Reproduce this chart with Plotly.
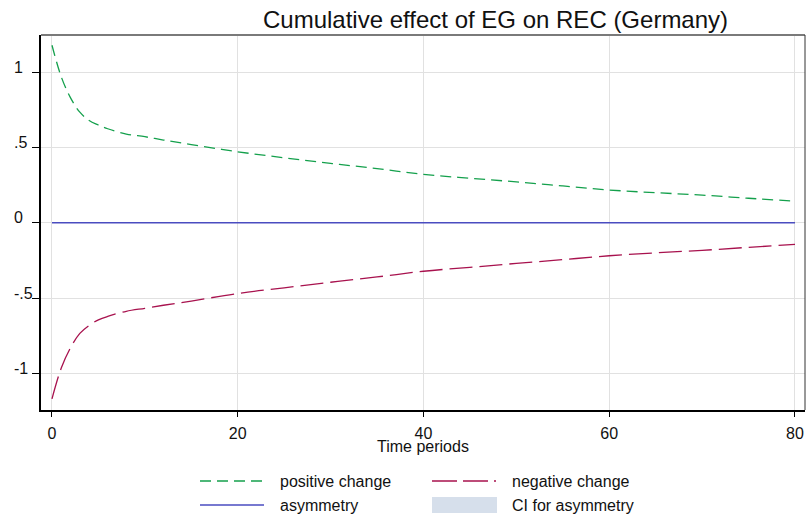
import plotly.graph_objects as go

# ---- data ----
periods = [0, 1, 2, 3, 4, 5, 6, 8, 10, 12, 15, 20, 25, 30, 35, 40, 45, 50, 55, 60, 65, 70, 75, 80]
positive_change = [1.18, 0.97, 0.83, 0.735, 0.68, 0.65, 0.625, 0.59, 0.572, 0.55, 0.52, 0.472,
                   0.432, 0.395, 0.36, 0.322, 0.296, 0.272, 0.245, 0.218, 0.2, 0.184, 0.163, 0.144]
negative_change = [-1.17, -0.965, -0.83, -0.735, -0.682, -0.645, -0.622, -0.588, -0.568, -0.548, -0.52, -0.47,
                   -0.432, -0.395, -0.36, -0.322, -0.296, -0.27, -0.245, -0.219, -0.2, -0.183, -0.163, -0.144]
asymmetry = [0.0] * len(periods)
ci_lower = [0.0] * len(periods)
ci_upper = [0.0] * len(periods)

x_ticks = [0, 20, 40, 60, 80]
y_ticks = [1, 0.5, 0, -0.5, -1]
y_tick_labels = ["1", ".5", "0", "-.5", "-1"]

title_text = "Cumulative effect of EG on REC (Germany)"
x_title = "Time periods"
legend_labels = ["positive change", "negative change", "asymmetry", "CI for asymmetry"]

GREEN = "#14a04c"
RED = "#a8124e"
BLUE = "#4a4cc0"
CI_FILL = "#d6dfeb"
FONT = "Liberation Sans, Arial, sans-serif"

W, H = 807, 517
L, R, T, B = 41, 2, 35, 107

fig = go.Figure()
fig.add_trace(go.Scatter(x=periods, y=ci_upper, mode="lines", line=dict(width=0),
                         showlegend=False, hoverinfo="skip"))
fig.add_trace(go.Scatter(x=periods, y=ci_lower, mode="lines", line=dict(width=0),
                         fill="tonexty", fillcolor=CI_FILL, showlegend=False, hoverinfo="skip"))
fig.add_trace(go.Scatter(x=periods, y=positive_change, mode="lines", line_shape="spline",
                         line=dict(color=GREEN, width=1.3, dash="11px,6px"), showlegend=False))
fig.add_trace(go.Scatter(x=periods, y=negative_change, mode="lines", line_shape="spline",
                         line=dict(color=RED, width=1.3, dash="23px,7px"), showlegend=False))
fig.add_trace(go.Scatter(x=periods, y=asymmetry, mode="lines",
                         line=dict(color=BLUE, width=1.5), showlegend=False))

pw = W - L - R
ph = H - T - B


def px_x(p):
    return (p - L) / pw


def px_y(p):
    return 1 - (p - T) / ph


shapes = []
annotations = []

# frame: gray top, dark right
shapes.append(dict(type="line", xref="paper", yref="paper", x0=0, x1=1, y0=1, y1=1,
                   line=dict(color="#7a7a7a", width=2)))
shapes.append(dict(type="line", xref="paper", yref="paper", x0=1, x1=1, y0=0, y1=1,
                   line=dict(color="#333333", width=1)))

# y tick labels (left aligned as in reference)
for v, lab in zip(y_ticks, y_tick_labels):
    annotations.append(dict(text=lab, xref="paper", yref="y", x=px_x(12), y=v, xanchor="left",
                            yanchor="middle", yshift=5, showarrow=False,
                            font=dict(family=FONT, size=16, color="#111")))

# x title
annotations.append(dict(text=x_title, xref="paper", yref="paper", x=0.5, y=px_y(446),
                        xanchor="center", yanchor="middle", showarrow=False,
                        font=dict(family=FONT, size=16, color="#111")))

# main title
annotations.append(dict(text=title_text, xref="paper", yref="paper", x=px_x(495), y=px_y(20),
                        xanchor="center", yanchor="middle", showarrow=False,
                        font=dict(family=FONT, size=24, color="#111")))

# manual legend
row1, row2 = 481, 505
shapes.append(dict(type="line", xref="paper", yref="paper", x0=px_x(200), x1=px_x(265),
                   y0=px_y(row1), y1=px_y(row1), line=dict(color=GREEN, width=1.3, dash="11px,6px")))
shapes.append(dict(type="line", xref="paper", yref="paper", x0=px_x(432), x1=px_x(497),
                   y0=px_y(row1), y1=px_y(row1), line=dict(color=RED, width=1.3, dash="25px,6px,25px,6px,2px,6px")))
shapes.append(dict(type="line", xref="paper", yref="paper", x0=px_x(200), x1=px_x(264),
                   y0=px_y(row2), y1=px_y(row2), line=dict(color=BLUE, width=1.5)))
shapes.append(dict(type="rect", xref="paper", yref="paper", x0=px_x(432), x1=px_x(497),
                   y0=px_y(513), y1=px_y(497), line=dict(width=0), fillcolor=CI_FILL))
for lab, xp, yp in [(legend_labels[0], 278, row1), (legend_labels[1], 510, row1),
                    (legend_labels[2], 278, row2), (legend_labels[3], 510, row2)]:
    annotations.append(dict(text=lab, xref="paper", yref="paper", x=px_x(xp), y=px_y(yp),
                            xanchor="left", yanchor="middle", showarrow=False,
                            font=dict(family=FONT, size=16, color="#111")))

fig.update_layout(
    width=W, height=H,
    margin=dict(l=L, r=R, t=T, b=B, pad=0),
    paper_bgcolor="white", plot_bgcolor="white",
    showlegend=False,
    shapes=shapes, annotations=annotations,
    font=dict(family=FONT, size=16, color="#111"),
    xaxis=dict(range=[-1.183, 81.08], tickvals=x_ticks, ticktext=[str(t) for t in x_ticks],
               showgrid=True, gridcolor="#e1e1e1", gridwidth=1, zeroline=False,
               showline=True, linecolor="black", linewidth=1.5,
               ticks="outside", ticklen=5, tickcolor="black", ticklabelstandoff=3,
               tickfont=dict(family=FONT, size=16, color="#111")),
    yaxis=dict(range=[-1.244, 1.248], tickvals=y_ticks, showticklabels=False,
               showgrid=True, gridcolor="#e1e1e1", gridwidth=1, zeroline=False,
               showline=True, linecolor="black", linewidth=1.5,
               ticks="outside", ticklen=7, tickcolor="black"),
)

fig.write_html("out.html", config={"displayModeBar": False},
               post_script="document.body.style.margin='0';document.body.style.overflow='hidden';")
